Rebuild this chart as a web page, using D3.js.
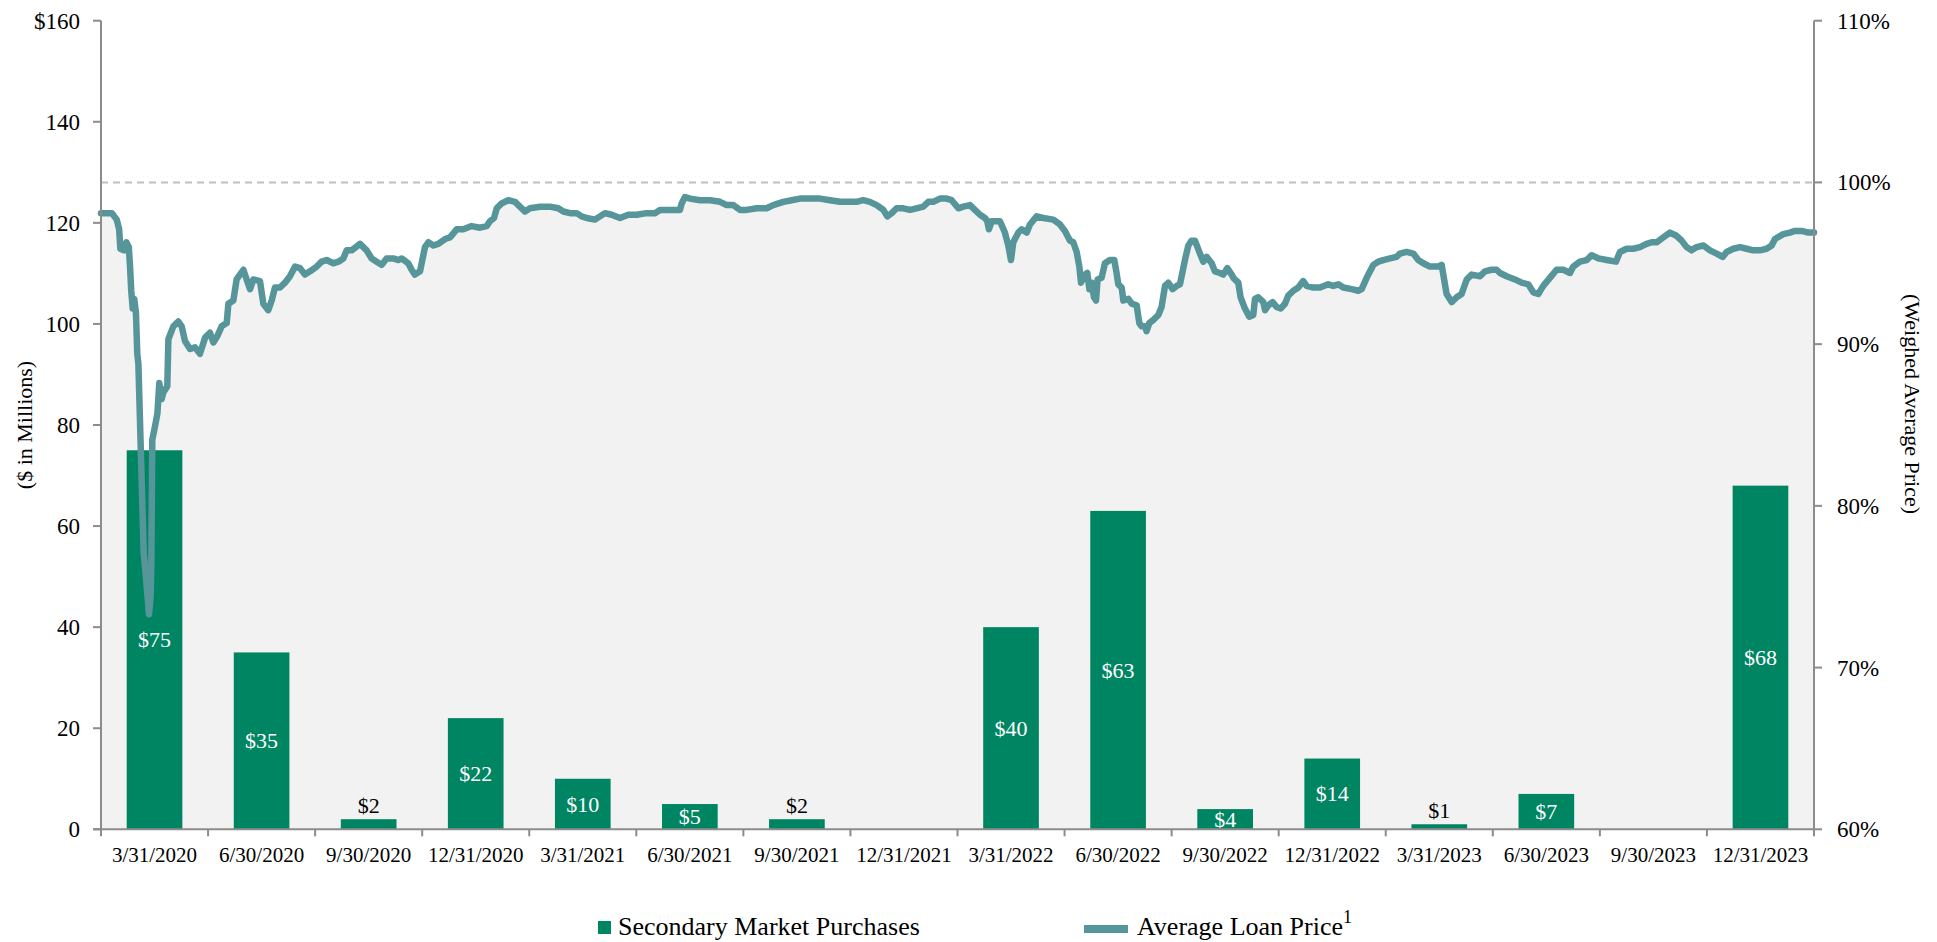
<!DOCTYPE html>
<html>
<head>
<meta charset="utf-8">
<script src="https://cdn.jsdelivr.net/npm/d3@7"></script>
<style>
  body { margin: 0; background: #fff; }
  svg text { font-family: "Liberation Serif", "Times New Roman", serif; }
</style>
</head>
<body>
<div id="chart"></div>
<script>
// quarter ends and secondary market purchases ($ millions)
var categories = ["3/31/2020", "6/30/2020", "9/30/2020", "12/31/2020",
                  "3/31/2021", "6/30/2021", "9/30/2021", "12/31/2021",
                  "3/31/2022", "6/30/2022", "9/30/2022", "12/31/2022",
                  "3/31/2023", "6/30/2023", "9/30/2023", "12/31/2023"];
var purchases = [75, 35, 2, 22, 10, 5, 2, null, 40, 63, 4, 14, 1, 7, null, 68];

var leftTicks = [0, 20, 40, 60, 80, 100, 120, 140, 160];
var rightTicks = [60, 70, 80, 90, 100, 110];

// average loan price, [days after start, % of par]
var priceStart = new Date(2020, 1, 14);
var priceEnd = new Date(2023, 11, 31);
var priceSeries = [
  [0, 98.1], [9, 98.1], [13, 97.7], [15, 97.1], [16, 95.9], [19, 95.8], [21, 96.3], [23, 96.0],
  [24, 94.8], [25, 93.3], [26.2, 92.2], [27.5, 92.8], [28.9, 91.9], [30.0, 89.4], [30.9, 88.8],
  [35.3, 77.1], [36.9, 75.8], [39.7, 73.3], [41.0, 74.4], [41.6, 76.5], [42.4, 84.1], [44.6, 84.9],
  [46.6, 85.7], [48.2, 87.6], [50.1, 86.6], [51.5, 87.0], [54.8, 87.4], [55.7, 90.3], [59.8, 91.1],
  [63.9, 91.4], [66.7, 91.1], [69.4, 90.2], [73.6, 89.7], [77.7, 89.8], [81.8, 89.4], [86.0, 90.4],
  [90.1, 90.7], [92.9, 90.1], [96.2, 90.5], [99.7, 91.1], [103.9, 91.3], [105.3, 92.5], [109.4, 92.7],
  [112.1, 94.0], [117.7, 94.6], [120.4, 94.0], [123.2, 93.4], [125.9, 94.0], [131.4, 93.9], [134.2, 92.5],
  [138.3, 92.1], [141.1, 92.7], [143.8, 93.5], [148.0, 93.5], [152.1, 93.8], [156.2, 94.2], [160.4, 94.8],
  [164.5, 94.7], [168.6, 94.3], [172.8, 94.5], [178.3, 94.8], [182.4, 95.1], [186.5, 95.2], [192.0, 95.0],
  [196.2, 95.1], [200.3, 95.3], [203.1, 95.8], [207.2, 95.8], [214.1, 96.2], [219.6, 95.8], [223.7, 95.3],
  [227.9, 95.1], [232.0, 94.9], [236.1, 95.3], [241.6, 95.3], [245.8, 95.2], [248.5, 95.3], [254.0, 95.0],
  [256.8, 94.6], [259.5, 94.3], [263.7, 94.5], [267.8, 96.0], [270.6, 96.3], [274.7, 96.1], [278.8, 96.2],
  [284.4, 96.5], [288.5, 96.6], [294.0, 97.1], [299.5, 97.1], [306.4, 97.3], [313.3, 97.2], [318.8, 97.3],
  [321.5, 97.6], [324.9, 97.8], [327.1, 98.4], [331.2, 98.7], [336.7, 98.9], [342.2, 98.8], [346.3, 98.5],
  [350.5, 98.2], [354.6, 98.4], [362.9, 98.5], [371.1, 98.5], [378.0, 98.4], [382.2, 98.2], [387.7, 98.1],
  [393.2, 98.1], [397.3, 97.9], [401.5, 97.8], [408.3, 97.7], [412.5, 97.9], [416.6, 98.1], [422.1, 98.0],
  [429.0, 97.8], [435.9, 98.0], [442.8, 98.0], [451.0, 98.1], [457.9, 98.1], [462.1, 98.3], [470.3, 98.3],
  [478.6, 98.3], [480.0, 98.7], [482.7, 99.1], [486.9, 99.0], [495.1, 98.9], [503.4, 98.9], [511.7, 98.8],
  [517.2, 98.6], [522.7, 98.6], [528.2, 98.3], [533.7, 98.3], [542.0, 98.4], [550.2, 98.4], [555.7, 98.6],
  [564.0, 98.8], [570.9, 98.9], [577.8, 99.0], [586.0, 99.0], [594.3, 99.0], [602.6, 98.9], [610.9, 98.8],
  [619.1, 98.8], [624.6, 98.8], [630.1, 98.9], [635.6, 98.8], [641.2, 98.6], [646.7, 98.3], [650.0, 97.9],
  [653.6, 98.1], [657.7, 98.4], [663.2, 98.4], [668.7, 98.3], [674.2, 98.4], [679.7, 98.5], [683.9, 98.8],
  [688.0, 98.8], [693.5, 99.0], [699.0, 99.0], [703.2, 98.9], [708.7, 98.4], [712.8, 98.5], [718.3, 98.6],
  [722.4, 98.3], [726.6, 98.0], [730.7, 97.8], [732.6, 97.6], [734.0, 97.1], [736.2, 97.6], [740.4, 97.6],
  [743.1, 97.6], [747.2, 96.9], [750.0, 96.1], [752.2, 95.2], [754.1, 96.3], [758.3, 96.9], [761.0, 97.1],
  [765.2, 96.9], [767.9, 97.4], [773.4, 97.9], [778.9, 97.8], [787.2, 97.7], [792.7, 97.4], [796.8, 97.0],
  [801.0, 96.4], [803.7, 96.3], [806.5, 95.7], [808.7, 94.8], [810.1, 93.8], [813.4, 94.3], [815.3, 94.4],
  [817.0, 93.4], [818.9, 93.8], [820.8, 92.9], [822.5, 92.7], [823.8, 94.0], [827.1, 94.1], [829.9, 95.0],
  [834.0, 95.2], [837.6, 95.2], [839.5, 94.4], [840.9, 93.7], [843.7, 93.5], [845.1, 92.7], [849.2, 92.8],
  [852.0, 92.5], [856.1, 92.4], [858.3, 91.3], [860.2, 91.1], [863.0, 91.1], [864.3, 90.8], [866.5, 91.3],
  [869.9, 91.5], [874.0, 91.8], [876.7, 92.3], [879.5, 93.6], [882.2, 93.8], [885.8, 93.4], [889.1, 93.6],
  [891.9, 93.7], [896.0, 95.2], [898.8, 96.1], [901.5, 96.4], [904.3, 96.4], [908.4, 95.6], [911.2, 95.1],
  [913.9, 95.4], [918.1, 95.0], [920.8, 94.5], [925.0, 94.4], [927.7, 94.3], [931.0, 94.7], [934.6, 94.3],
  [936.0, 94.1], [940.1, 93.8], [942.0, 92.9], [945.6, 92.2], [949.2, 91.7], [952.5, 91.8], [953.9, 92.8],
  [956.6, 92.9], [960.8, 92.6], [962.2, 92.1], [964.9, 92.4], [968.5, 92.6], [971.8, 92.3], [975.1, 92.2],
  [978.7, 92.5], [981.4, 93.0], [985.6, 93.3], [989.7, 93.5], [993.8, 93.9], [996.6, 93.6], [1002.1, 93.5],
  [1007.6, 93.5], [1014.5, 93.7], [1018.6, 93.6], [1022.8, 93.7], [1026.9, 93.5], [1033.8, 93.4], [1039.3, 93.3],
  [1042.1, 93.4], [1046.2, 94.1], [1051.7, 94.9], [1055.8, 95.1], [1060.0, 95.2], [1065.5, 95.3], [1071.0, 95.4],
  [1073.7, 95.6], [1079.3, 95.7], [1084.8, 95.6], [1088.9, 95.2], [1093.0, 95.0], [1098.5, 94.8], [1105.4, 94.8],
  [1108.2, 94.9], [1112.3, 93.1], [1116.5, 92.6], [1120.6, 92.9], [1124.7, 93.1], [1128.9, 94.0], [1133.0, 94.3],
  [1139.9, 94.2], [1144.0, 94.5], [1149.5, 94.6], [1153.7, 94.6], [1156.4, 94.4], [1161.9, 94.2], [1168.8, 94.0],
  [1174.3, 93.8], [1179.8, 93.7], [1184.0, 93.2], [1188.1, 93.1], [1192.2, 93.6], [1197.7, 94.1], [1203.2, 94.6],
  [1208.8, 94.6], [1214.3, 94.4], [1217.0, 94.8], [1222.5, 95.1], [1228.0, 95.2], [1232.2, 95.5], [1237.7, 95.3],
  [1244.6, 95.2], [1252.3, 95.1], [1255.6, 95.7], [1261.1, 95.9], [1266.6, 95.9], [1272.1, 96.0], [1277.6, 96.2],
  [1281.8, 96.3], [1285.9, 96.3], [1291.4, 96.6], [1296.9, 96.9], [1302.4, 96.7], [1306.6, 96.4], [1310.7, 96.0],
  [1314.8, 95.8], [1319.0, 96.0], [1324.5, 96.1], [1330.0, 95.8], [1335.5, 95.6], [1340.5, 95.4], [1343.8, 95.7],
  [1349.3, 95.9], [1354.8, 96.0], [1360.3, 95.9], [1365.8, 95.8], [1371.3, 95.8], [1376.8, 95.9], [1381.0, 96.1],
  [1383.7, 96.5], [1390.6, 96.8], [1396.1, 96.9], [1400.2, 97.0], [1405.8, 97.0], [1411.3, 96.9], [1416.0, 96.9]
];
var parLevel = 100;

var BAR = "#008563", LINE = "#56959a", AXIS = "#8c8c8c";

var width = 1937, height = 942;
var plotL = 101, plotR = 1814, plotT = 20.7, plotB = 829.3;

var svg = d3.select("#chart").append("svg")
    .attr("width", width).attr("height", height);

var x = d3.scaleBand().domain(categories).range([plotL, plotR]).padding(0);
var yL = d3.scaleLinear().domain([0, 160]).range([plotB, plotT]);
var yR = d3.scaleLinear().domain([60, 110]).range([plotB, plotT]);
var xT = d3.scaleTime().domain([priceStart, priceEnd]).range([plotL, plotR]);

var pts = priceSeries.map(function(d) {
  return { date: new Date(priceStart.getTime() + d[0] * 864e5), v: d[1] };
});

// grey area under the price line
var area = d3.area()
    .x(function(d) { return xT(d.date); })
    .y0(plotB)
    .y1(function(d) { return yR(d.v); });
svg.append("path").datum(pts).attr("d", area).attr("fill", "#f2f2f2");

// par reference
svg.append("line")
    .attr("x1", plotL).attr("x2", plotR)
    .attr("y1", yR(parLevel)).attr("y2", yR(parLevel))
    .attr("stroke", "#bfbfbf").attr("stroke-width", 2).attr("stroke-dasharray", "7,5");

// bars
var bw = x.bandwidth();
var bars = categories.map(function(c, i) { return { c: c, v: purchases[i] }; })
    .filter(function(d) { return d.v != null; });

svg.append("g").selectAll("rect").data(bars).enter().append("rect")
    .attr("x", function(d) { return x(d.c) + bw * 0.24; })
    .attr("width", bw * 0.52)
    .attr("y", function(d) { return yL(d.v); })
    .attr("height", function(d) { return plotB - yL(d.v); })
    .attr("fill", BAR);

svg.append("g").selectAll("text").data(bars).enter().append("text")
    .attr("x", function(d) { return x(d.c) + bw / 2; })
    .attr("y", function(d) {
      return d.v >= 4 ? (yL(d.v) + plotB) / 2 + 7.5 : yL(d.v) - 6;
    })
    .attr("text-anchor", "middle")
    .attr("font-size", "22px")
    .attr("fill", function(d) { return d.v >= 4 ? "#fff" : "#000"; })
    .text(function(d) { return "$" + d.v; });

// price line
var line = d3.line()
    .x(function(d) { return xT(d.date); })
    .y(function(d) { return yR(d.v); });
svg.append("path").datum(pts).attr("d", line)
    .attr("fill", "none").attr("stroke", LINE).attr("stroke-width", 6.5)
    .attr("stroke-linejoin", "round").attr("stroke-linecap", "round");

// left axis
var gL = svg.append("g");
gL.append("line").attr("x1", plotL).attr("x2", plotL).attr("y1", plotT).attr("y2", plotB)
    .attr("stroke", AXIS).attr("stroke-width", 2);
gL.selectAll(".t").data(leftTicks).enter().append("line")
    .attr("x1", plotL - 8).attr("x2", plotL)
    .attr("y1", function(d) { return yL(d); }).attr("y2", function(d) { return yL(d); })
    .attr("stroke", AXIS).attr("stroke-width", 2);
gL.selectAll("text").data(leftTicks).enter().append("text")
    .attr("x", 80).attr("y", function(d) { return yL(d) + 8; })
    .attr("text-anchor", "end").attr("font-size", "23px")
    .text(function(d) { return d === 160 ? "$" + d : d; });

// right axis
var gR = svg.append("g");
gR.append("line").attr("x1", plotR).attr("x2", plotR).attr("y1", plotT).attr("y2", plotB)
    .attr("stroke", AXIS).attr("stroke-width", 2);
gR.selectAll(".t").data(rightTicks).enter().append("line")
    .attr("x1", plotR).attr("x2", plotR + 8)
    .attr("y1", function(d) { return yR(d); }).attr("y2", function(d) { return yR(d); })
    .attr("stroke", AXIS).attr("stroke-width", 2);
gR.selectAll("text").data(rightTicks).enter().append("text")
    .attr("x", 1837).attr("y", function(d) { return yR(d) + 8; })
    .attr("font-size", "23px")
    .text(function(d) { return d + "%"; });

// bottom axis, ticks on the quarter boundaries
var gB = svg.append("g");
gB.append("line").attr("x1", plotL - 8).attr("x2", plotR).attr("y1", plotB).attr("y2", plotB)
    .attr("stroke", AXIS).attr("stroke-width", 2);
var edges = categories.map(function(c) { return x(c); }).concat([plotR]);
gB.selectAll(".t").data(edges).enter().append("line")
    .attr("x1", function(d) { return d; }).attr("x2", function(d) { return d; })
    .attr("y1", plotB).attr("y2", plotB + 7)
    .attr("stroke", AXIS).attr("stroke-width", 2);
gB.selectAll("text").data(categories).enter().append("text")
    .attr("x", function(d) { return x(d) + bw / 2; }).attr("y", 862)
    .attr("text-anchor", "middle").attr("font-size", "21px")
    .text(function(d) { return d; });

// axis titles
svg.append("text").attr("transform", "translate(32," + (plotT + plotB) / 2 + ") rotate(-90)")
    .attr("text-anchor", "middle").attr("font-size", "22px").text("($ in Millions)");
svg.append("text").attr("transform", "translate(1905,404) rotate(90)")
    .attr("text-anchor", "middle").attr("font-size", "22px").text("(Weighed Average Price)");

// legend
var lg = svg.append("g");
lg.append("rect").attr("x", 598).attr("y", 921).attr("width", 13).attr("height", 13).attr("fill", BAR);
lg.append("text").attr("x", 618).attr("y", 935).attr("font-size", "26px").text("Secondary Market Purchases");
lg.append("line").attr("x1", 1084).attr("x2", 1128).attr("y1", 929).attr("y2", 929)
    .attr("stroke", LINE).attr("stroke-width", 8);
var lt = lg.append("text").attr("x", 1137).attr("y", 935).attr("font-size", "26px");
lt.append("tspan").text("Average Loan Price");
lt.append("tspan").attr("font-size", "18px").attr("dy", -12).text("1");
</script>
</body>
</html>
